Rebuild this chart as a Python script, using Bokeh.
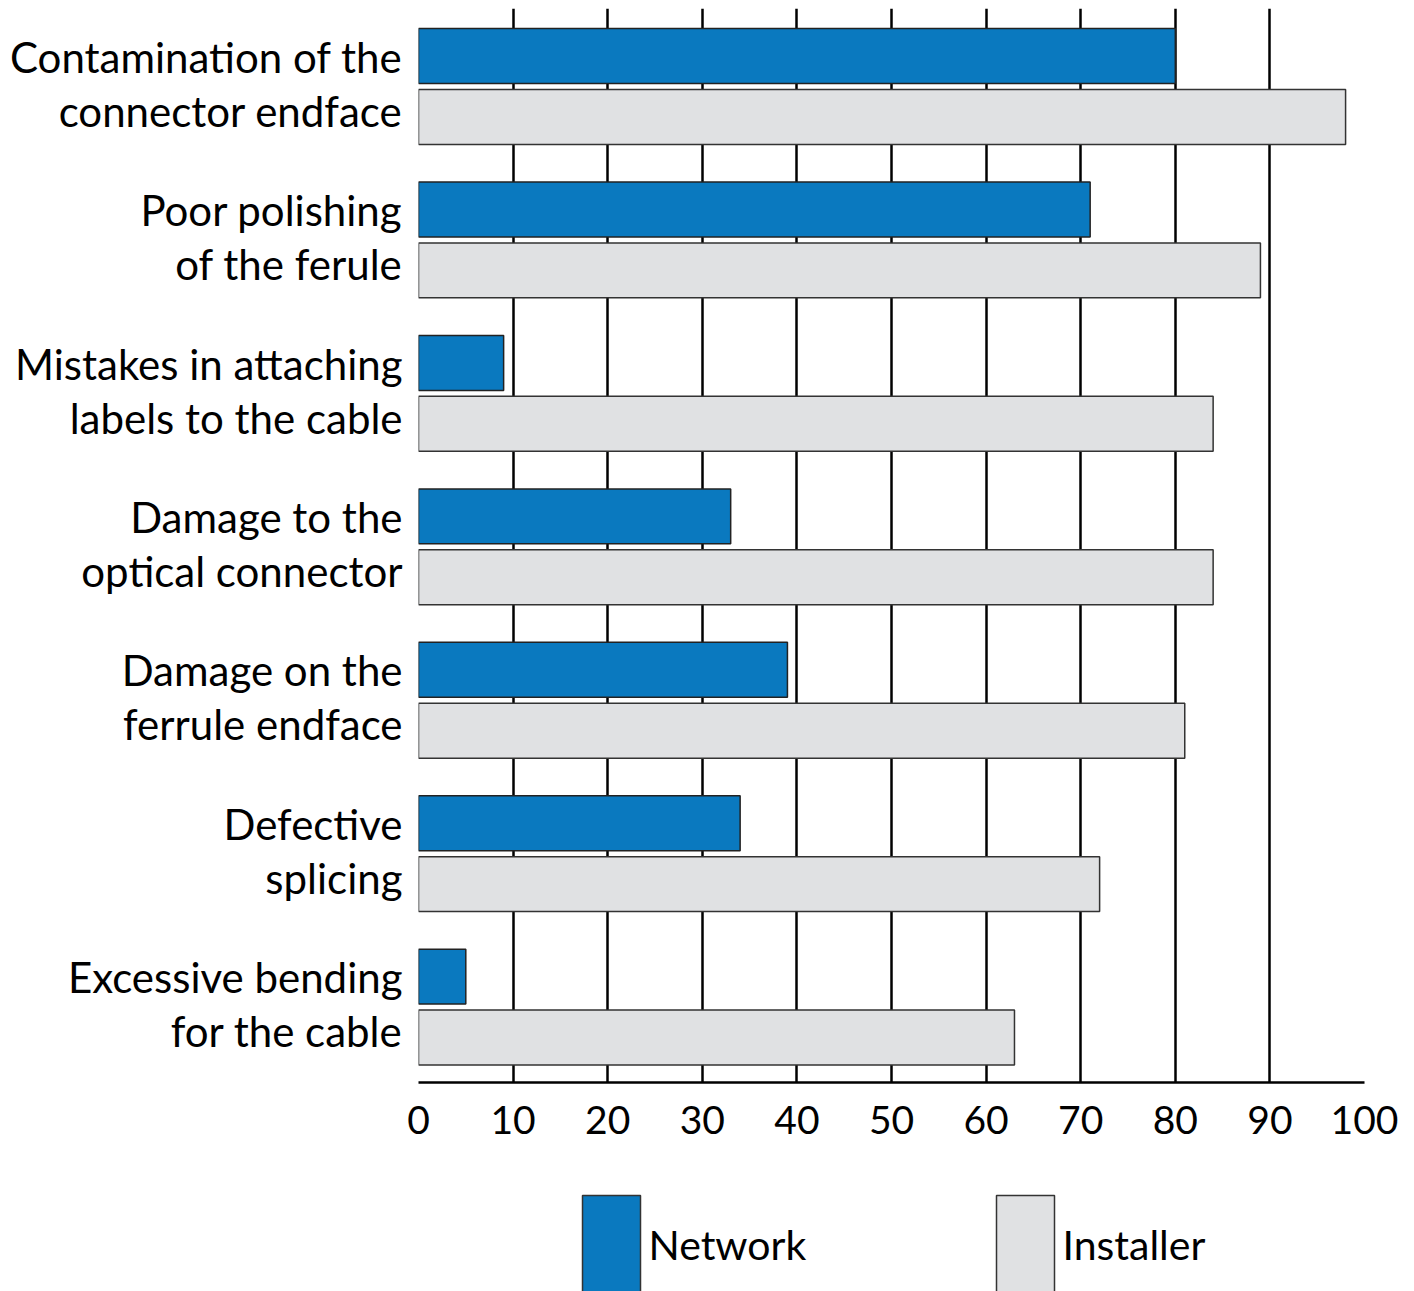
from bokeh.plotting import figure
from bokeh.models import Range1d, FixedTicker, ColumnDataSource
from bokeh.layouts import column
from bokeh.embed import file_html
from bokeh.resources import INLINE
from bokeh.core.properties import value
import numpy as np

categories = [
    "Contamination of the\nconnector endface",
    "Poor polishing\nof the ferule",
    "Mistakes in attaching\nlabels to the cable",
    "Damage to the\noptical connector",
    "Damage on the\nferrule endface",
    "Defective\nsplicing",
    "Excessive bending\nfor the cable",
]
network = [80, 71, 9, 33, 39, 34, 5]
installer = [98, 89, 84, 84, 81, 72, 63]
series = ["Network", "Installer"]
colors = ["#0a79bf", "#e0e1e3"]
x_ticks = list(range(0, 101, 10))

FONT = "Lato"
n = len(categories)
idx = np.arange(n)

p = figure(frame_width=946, frame_height=1074, output_backend="svg", toolbar_location=None,
           x_range=Range1d(0, 100), y_range=Range1d(n, 0),
           min_border_left=418, min_border_right=46, min_border_top=8, min_border_bottom=78)
p.outline_line_color = None
p.background_fill_color = "white"

src = ColumnDataSource(dict(y_net=idx + 0.31, y_ins=idx + 0.707, net=network, ins=installer))
p.hbar(y="y_net", right="net", left=0, height=0.358, source=src,
       fill_color=colors[0], line_color="#222222", line_width=1.5)
p.hbar(y="y_ins", right="ins", left=0, height=0.358, source=src,
       fill_color=colors[1], line_color="#333333", line_width=1.5)

p.xgrid.ticker = FixedTicker(ticks=x_ticks)
p.xgrid.grid_line_color = "black"
p.xgrid.grid_line_width = 2.5
p.xgrid.level = "underlay"
p.ygrid.visible = False

p.xaxis.ticker = FixedTicker(ticks=x_ticks)
p.xaxis.axis_line_color = "black"
p.xaxis.axis_line_width = 2.5
p.xaxis.major_tick_in = 0
p.xaxis.major_tick_out = 0
p.xaxis.minor_tick_line_color = None
p.xaxis.major_label_text_font = FONT
p.xaxis.major_label_text_font_size = "39px"
p.xaxis.major_label_text_color = "black"
p.xaxis.major_label_standoff = 23

p.yaxis.ticker = FixedTicker(ticks=list(idx + 0.49))
p.yaxis.major_label_overrides = {float(i + 0.49): c for i, c in enumerate(categories)}
p.yaxis.axis_line_color = None
p.yaxis.major_tick_in = 0
p.yaxis.major_tick_out = 0
p.yaxis.minor_tick_line_color = None
p.yaxis.major_label_text_font = FONT
p.yaxis.major_label_text_font_size = "42px"
p.yaxis.major_label_text_color = "black"
p.yaxis.major_label_text_line_height = 1.08
p.yaxis.major_label_standoff = 16

# legend strip below, in pixel units
LH = 131
lg = figure(frame_width=946, frame_height=LH, output_backend="svg", toolbar_location=None,
            x_range=Range1d(418, 1364), y_range=Range1d(LH, 0),
            min_border_left=418, min_border_right=46, min_border_top=0, min_border_bottom=0)
lg.axis.visible = False
lg.grid.visible = False
lg.outline_line_color = None
lx = np.array([582, 996])
lg.quad(left=lx, right=lx + 58, top=35, bottom=LH + 10, fill_color=colors,
        line_color="#333333", line_width=1.5)
lg.text(x=lx + 66, y=84, text=series, text_font=value(FONT), text_font_size="41px",
        text_baseline="alphabetic", text_color="black")

layout = column(p, lg, spacing=0)
open("out.html", "w").write(file_html(layout, INLINE))
